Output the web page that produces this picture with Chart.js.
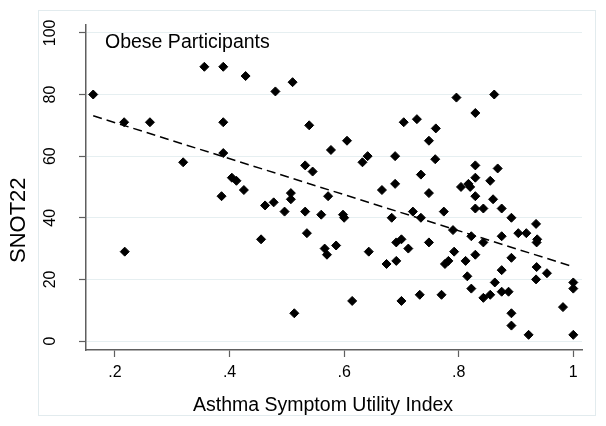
<!DOCTYPE html>
<html>
<head>
<meta charset="utf-8">
<script src="https://cdn.jsdelivr.net/npm/chart.js@4.4.1/dist/chart.umd.min.js"></script>
<style>
  html, body { margin: 0; padding: 0; background: #fff; }
</style>
</head>
<body>
<canvas id="snotChart" width="606" height="426"></canvas>
<script>
// Asthma Symptom Utility Index (x) vs SNOT22 (y), obese participants
const asuiIndex = [
  0.162, 0.216, 0.217, 0.261, 0.319, 0.356, 0.389, 0.389, 0.389, 0.386,
  0.404, 0.412, 0.425, 0.428, 0.455, 0.462, 0.477, 0.480, 0.496, 0.507,
  0.507, 0.510, 0.513, 0.532, 0.532, 0.535, 0.539, 0.545, 0.560, 0.566,
  0.570, 0.572, 0.577, 0.586, 0.598, 0.600, 0.605, 0.614, 0.632, 0.641,
  0.643, 0.666, 0.674, 0.683, 0.689, 0.689, 0.691, 0.691, 0.700, 0.700,
  0.704, 0.712, 0.720, 0.727, 0.732, 0.734, 0.734, 0.748, 0.748, 0.748,
  0.759, 0.760, 0.770, 0.774, 0.776, 0.782, 0.790, 0.792, 0.796, 0.804,
  0.817, 0.820, 0.812, 0.815, 0.822, 0.822, 0.829, 0.829, 0.829, 0.829,
  0.829, 0.829, 0.843, 0.843, 0.843, 0.855, 0.855, 0.860, 0.862, 0.863,
  0.868, 0.875, 0.875, 0.875, 0.875, 0.887, 0.892, 0.892, 0.892, 0.892,
  0.904, 0.918, 0.922, 0.935, 0.937, 0.936, 0.936, 0.935, 0.954, 0.982,
  1.0, 1.0, 1.0
];
const snot22 = [
  80, 71, 29, 71, 58, 89, 89, 71, 61, 47,
  53, 52, 49, 86, 33, 44, 45, 81, 42, 48,
  46, 84, 9, 57, 42, 35, 70, 55, 41, 30,
  28, 47, 62, 31, 41, 40, 65, 13, 58, 60,
  29, 49, 25, 40, 60, 51, 26, 32, 33, 13,
  71, 30, 42, 72, 15, 54, 40, 65, 48, 32,
  59, 69, 15, 42, 25, 26, 36, 29, 79, 50,
  51, 50, 26, 21, 34, 17, 74, 57, 53, 47,
  43, 28, 43, 32, 14, 52, 15, 46, 80, 19,
  56, 43, 34, 23, 16, 16, 40, 27, 9, 5,
  35, 35, 2, 38, 33, 32, 24, 20, 22, 11,
  19, 17, 2
];
// fitted line end points
const fitX = [0.162, 1.0];
const fitY = [73.1, 24.1];

const xTickValues = [0.2, 0.4, 0.6, 0.8, 1];
const xTickLabels = ['.2', '.4', '.6', '.8', '1'];
const yTickValues = [0, 20, 40, 60, 80, 100];

const FONT = '"Liberation Sans", Arial, sans-serif';
Chart.defaults.font.family = FONT;
Chart.defaults.color = '#000';

const points = asuiIndex.map((x, i) => ({ x: x, y: snot22[i] }));
const fitLine = fitX.map((x, i) => ({ x: x, y: fitY[i] }));

// light frame of the graph region + free text
const frameAndText = {
  id: 'frameAndText',
  beforeDraw(chart) {
    const ctx = chart.ctx;
    ctx.save();
    ctx.fillStyle = '#fff';
    ctx.fillRect(0, 0, chart.width, chart.height);
    ctx.strokeStyle = '#e2ebee';
    ctx.lineWidth = 1;
    ctx.strokeRect(38.5, 10.5, 557, 405);
    ctx.restore();
  },
  afterDraw(chart) {
    const ctx = chart.ctx;
    ctx.save();
    ctx.fillStyle = '#000';
    ctx.textBaseline = 'alphabetic';
    ctx.textAlign = 'left';
    ctx.font = '19.5px ' + FONT;
    ctx.fillText('Obese Participants', 105, 48);
    ctx.fillText('Asthma Symptom Utility Index', 193, 411);
    ctx.translate(25, 263);
    ctx.rotate(-Math.PI / 2);
    ctx.font = '22px ' + FONT;
    ctx.fillText('SNOT22', 0, 0);
    ctx.restore();
  }
};

new Chart(document.getElementById('snotChart'), {
  type: 'scatter',
  data: {
    datasets: [
      {
        type: 'line',
        data: fitLine,
        borderColor: '#000',
        borderWidth: 1.5,
        borderDash: [9, 5],
        pointRadius: 0,
        fill: false
      },
      {
        data: points,
        pointStyle: 'rectRot',
        pointRadius: 4.5,
        backgroundColor: '#000',
        borderColor: '#000',
        borderWidth: 1
      }
    ]
  },
  options: {
    responsive: false,
    animation: false,
    events: [],
    layout: { padding: { top: 24, right: 24, left: 0, bottom: 0 } },
    plugins: {
      legend: { display: false },
      tooltip: { enabled: false }
    },
    scales: {
      x: {
        type: 'linear',
        min: 0.1494,
        max: 1.0152,
        afterBuildTicks: s => { s.ticks = xTickValues.map(v => ({ value: v })); },
        afterFit: s => { s.height = 76; },
        border: { display: true, color: '#5f5f5f', width: 1.5 },
        grid: { drawOnChartArea: false, tickLength: 7, tickColor: '#5f5f5f', tickWidth: 1.2 },
        ticks: {
          padding: 6,
          font: { size: 16 },
          callback: (v, i) => xTickLabels[i]
        }
      },
      y: {
        type: 'linear',
        min: -2.92,
        max: 102.69,
        afterBuildTicks: s => { s.ticks = yTickValues.map(v => ({ value: v })); },
        afterFit: s => { s.width = 86; },
        border: { display: true, color: '#5f5f5f', width: 1.5 },
        grid: { color: '#e6eff1', lineWidth: 1, tickLength: 7, tickColor: '#5f5f5f', tickWidth: 1.2 },
        ticks: {
          minRotation: 90,
          maxRotation: 90,
          crossAlign: 'center',
          padding: 15,
          font: { size: 16 },
          callback: v => String(v)
        }
      }
    }
  },
  plugins: [frameAndText]
});
</script>
</body>
</html>
